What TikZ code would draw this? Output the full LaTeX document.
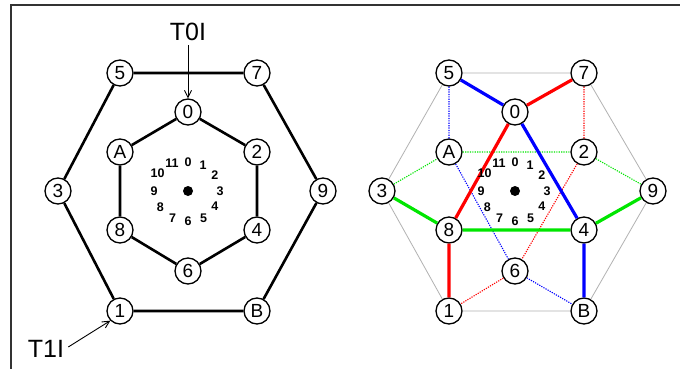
\documentclass[tikz,border=0pt]{standalone}
\usepackage{fontspec}
\setmainfont{Liberation Sans}
\usetikzlibrary{arrows.meta,calc}
\definecolor{gR}{RGB}{255,0,0}
\definecolor{gB}{RGB}{0,0,255}
\definecolor{gG}{RGB}{0,230,0}
\begin{document}
\begin{tikzpicture}[x=1pt,y=-1pt,
  vtx/.style={circle,draw=black,line width=1.3pt,fill=white,minimum size=26pt,inner sep=0pt,font=\fontsize{19}{19}\selectfont},
  hexline/.style={line width=2.6pt,black},
  grayline/.style={line width=0.8pt,black!30},
  thickc/.style={line width=3.2pt},
  dotc/.style={line width=1.1pt,dash pattern=on 1.2pt off 1.2pt},
  clk/.style={font=\fontsize{12.5}{12.5}\selectfont\bfseries,inner sep=0pt},
  lbl/.style={font=\fontsize{25}{25}\selectfont,inner sep=0pt},
  arr/.style={-{Straight Barb[length=7pt,width=7pt]},line width=0.9pt}]
\useasboundingbox (0,0) rectangle (680,369);
\fill[white] (0,0) rectangle (680,369);
\draw[line width=2pt,black!80] (11,369) -- (11,5) -- (680,5);

% ---------- left diagram ----------
\node[vtx] (L5) at (120,73) {5};
\node[vtx] (L7) at (257,73) {7};
\node[vtx] (L3) at (58,191) {3};
\node[vtx] (L9) at (323,191) {9};
\node[vtx] (L1) at (120,311) {1};
\node[vtx] (LB) at (257,311) {B};
\node[vtx] (L0) at (188,112) {0};
\node[vtx] (LA) at (120,152) {A};
\node[vtx] (L2) at (257,152) {2};
\node[vtx] (L8) at (120,230) {8};
\node[vtx] (L4) at (257,230) {4};
\node[vtx] (L6) at (188,271) {6};
\draw[hexline] (L5) -- (L7) (L7) -- (L9) (L9) -- (LB) (LB) -- (L1) (L1) -- (L3) (L3) -- (L5);
\draw[hexline] (L0) -- (L2) (L2) -- (L4) (L4) -- (L6) (L6) -- (L8) (L8) -- (LA) (LA) -- (L0);
\node[fill=black,circle,inner sep=0pt,minimum size=10pt] (Lc) at (188,191) {};
\foreach \k/\r in {0/29,1/30,2/31,3/32,4/31,5/31,6/30,7/31,8/32,9/34,10/35,11/32} {
  \node[clk] (Lk\k) at ($(Lc)+({sin(30*\k)*\r},{-cos(30*\k)*\r})$) {\k};
}
\node[lbl] (T0) at (188,32) {T0I};
\coordinate (T0s) at ($(T0.south)+(0,4)$);
\draw[arr] (T0s) -- (L0.north);
\node[lbl] (T1) at (46,349) {T1I};
\coordinate (T1e) at ($(T1.east)+(4,-2)$);
\draw[arr] (T1e) -- (L1.south west);

% ---------- right diagram ----------
\node[vtx] (R5) at (449,73) {5};
\node[vtx] (R7) at (584,73) {7};
\node[vtx] (R3) at (382,191) {3};
\node[vtx] (R9) at (653,191) {9};
\node[vtx] (R1) at (449,311) {1};
\node[vtx] (RB) at (584,311) {B};
\node[vtx] (R0) at (515,112) {0};
\node[vtx] (RA) at (449,152) {A};
\node[vtx] (R2) at (584,152) {2};
\node[vtx] (R8) at (449,230) {8};
\node[vtx] (R4) at (584,230) {4};
\node[vtx] (R6) at (515,271) {6};
\draw[grayline] (R5) -- (R7) (R7) -- (R9) (R9) -- (RB) (RB) -- (R1) (R1) -- (R3) (R3) -- (R5);
\draw[dotc,gB] (R5) -- (RA) (RA) -- (R6) (R6) -- (RB);
\draw[dotc,gR] (R7) -- (R2) (R2) -- (R6) (R6) -- (R1);
\draw[dotc,gG] (R3) -- (RA) (RA) -- (R2) (R2) -- (R9);
\draw[thickc,gB] (R5) -- (R0) (R0) -- (R4) (R4) -- (RB);
\draw[thickc,gR] (R7) -- (R0) (R0) -- (R8) (R8) -- (R1);
\draw[thickc,gG] (R3) -- (R8) (R8) -- (R4) (R4) -- (R9);
\node[fill=black,circle,inner sep=0pt,minimum size=10pt] (Rc) at (515,191) {};
\foreach \k/\r in {0/29,1/30,2/31,3/32,4/31,5/31,6/30,7/31,8/32,9/34,10/35,11/32} {
  \node[clk] (Rk\k) at ($(Rc)+({sin(30*\k)*\r},{-cos(30*\k)*\r})$) {\k};
}
\end{tikzpicture}
\end{document}
